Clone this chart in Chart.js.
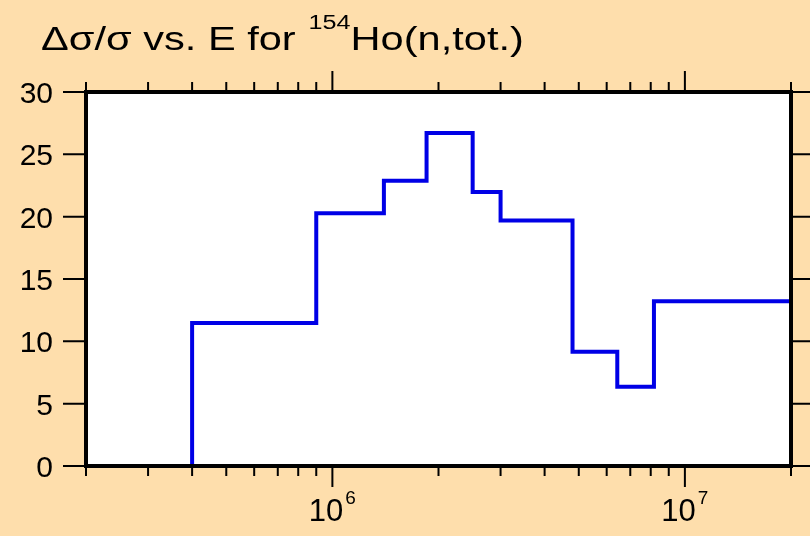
<!DOCTYPE html>
<html>
<head>
<meta charset="utf-8">
<script src="https://cdn.jsdelivr.net/npm/chart.js@4/dist/chart.umd.min.js"></script>
<style>
  html, body { margin: 0; padding: 0; background: #fedeac; }
  #wrap { width: 810px; height: 536px; }
</style>
</head>
<body>
<div id="wrap"><canvas id="chart" width="810" height="536"></canvas></div>
<script>
// energy bin edges (eV) and relative uncertainty in each bin (%)
const binEdges = [4.0e5, 9.0e5, 1.4e6, 1.85e6, 2.5e6, 3.0e6, 4.8e6, 6.43e6, 8.17e6, 2.0e7];
const binValues = [11.48, 20.27, 22.89, 26.71, 21.98, 19.69, 9.16, 6.35, 13.22];

// axis ticks
const yTicks = [0, 5, 10, 15, 20, 25, 30];
const xMinorTicks = [2e5, 3e5, 4e5, 5e5, 6e5, 7e5, 8e5, 9e5,
                     2e6, 3e6, 4e6, 5e6, 6e6, 7e6, 8e6, 9e6, 2e7];
const xMajorTicks = [1e6, 1e7];
const xMajorBase = ['10', '10'];
const xMajorExp = ['6', '7'];

const FONT = '"Liberation Sans", Arial, sans-serif';

// step outline: up at the first edge, across each bin, down at the last edge
const points = [{x: binEdges[0], y: 0}];
binValues.forEach(function(v, i) {
  points.push({x: binEdges[i + 1], y: v});
});
points.push({x: binEdges[binEdges.length - 1], y: 0});

const framePlugin = {
  id: 'frame',
  beforeDraw: function(chart) {
    const ctx = chart.ctx, a = chart.chartArea;
    ctx.save();
    ctx.fillStyle = '#fedeac';
    ctx.fillRect(0, 0, chart.width, chart.height);
    ctx.fillStyle = '#ffffff';
    ctx.fillRect(a.left, a.top, a.right - a.left, a.bottom - a.top);
    ctx.restore();
  },
  afterDraw: function(chart) {
    const ctx = chart.ctx, a = chart.chartArea;
    const xs = chart.scales.x, ys = chart.scales.y;
    ctx.save();
    ctx.strokeStyle = '#000';
    ctx.fillStyle = '#000';

    // ticks
    ctx.lineWidth = 2;
    ctx.beginPath();
    yTicks.forEach(function(v) {
      const y = ys.getPixelForValue(v);
      ctx.moveTo(a.left - 23, y); ctx.lineTo(a.left, y);
      ctx.moveTo(a.right, y); ctx.lineTo(a.right + 22, y);
    });
    xMinorTicks.forEach(function(v) {
      const x = xs.getPixelForValue(v);
      ctx.moveTo(x, a.bottom); ctx.lineTo(x, a.bottom + 10);
      ctx.moveTo(x, a.top); ctx.lineTo(x, a.top - 10);
    });
    xMajorTicks.forEach(function(v) {
      const x = xs.getPixelForValue(v);
      ctx.moveTo(x, a.bottom); ctx.lineTo(x, a.bottom + 21);
      ctx.moveTo(x, a.top); ctx.lineTo(x, a.top - 21);
    });
    ctx.stroke();

    // frame
    ctx.lineWidth = 4;
    ctx.strokeRect(a.left, a.top, a.right - a.left, a.bottom - a.top);

    // y labels
    ctx.font = '30px ' + FONT;
    ctx.textAlign = 'right';
    ctx.textBaseline = 'alphabetic';
    yTicks.forEach(function(v) {
      ctx.fillText(String(v), a.left - 33, ys.getPixelForValue(v) + 11);
    });

    // x labels: 10 with superscript exponent
    ctx.textAlign = 'left';
    xMajorTicks.forEach(function(v, i) {
      const x = xs.getPixelForValue(v);
      ctx.font = '31px ' + FONT;
      const wb = ctx.measureText(xMajorBase[i]).width;
      ctx.font = '19px ' + FONT;
      const we = ctx.measureText(xMajorExp[i]).width;
      const x0 = x - (wb + 2 + we) / 2;
      ctx.font = '31px ' + FONT;
      ctx.fillText(xMajorBase[i], x0, a.bottom + 55);
      ctx.font = '19px ' + FONT;
      ctx.fillText(xMajorExp[i], x0 + wb + 2, a.bottom + 38);
    });

    // title, drawn a little wider than the font's natural width
    const sx = 1.26;
    ctx.translate(41, 0);
    ctx.scale(sx, 1);
    let tx = 0;
    ctx.font = '33px ' + FONT;
    ctx.fillText('\u0394\u03c3/\u03c3 vs. E for ', tx, 50);
    tx += ctx.measureText('\u0394\u03c3/\u03c3 vs. E for ').width + 1;
    ctx.font = '20px ' + FONT;
    ctx.fillText('154', tx, 29);
    tx += ctx.measureText('154').width;
    ctx.font = '33px ' + FONT;
    ctx.fillText('Ho(n,tot.)', tx, 50);
    ctx.restore();
  }
};

document.addEventListener('DOMContentLoaded', function() {
  const ctx = document.getElementById('chart').getContext('2d');
  new Chart(ctx, {
    type: 'line',
    data: {
      datasets: [{
        data: points,
        stepped: 'after',
        borderColor: '#0000e6',
        borderWidth: 4,
        pointRadius: 0,
        fill: false
      }]
    },
    options: {
      responsive: false,
      animation: false,
      layout: { padding: { left: 86, top: 92, right: 19, bottom: 70 } },
      plugins: { legend: { display: false }, tooltip: { enabled: false } },
      scales: {
        x: { type: 'logarithmic', min: 2e5, max: 2e7, display: false },
        y: { type: 'linear', min: 0, max: 30, display: false }
      }
    },
    plugins: [framePlugin]
  });
});
</script>
</body>
</html>
